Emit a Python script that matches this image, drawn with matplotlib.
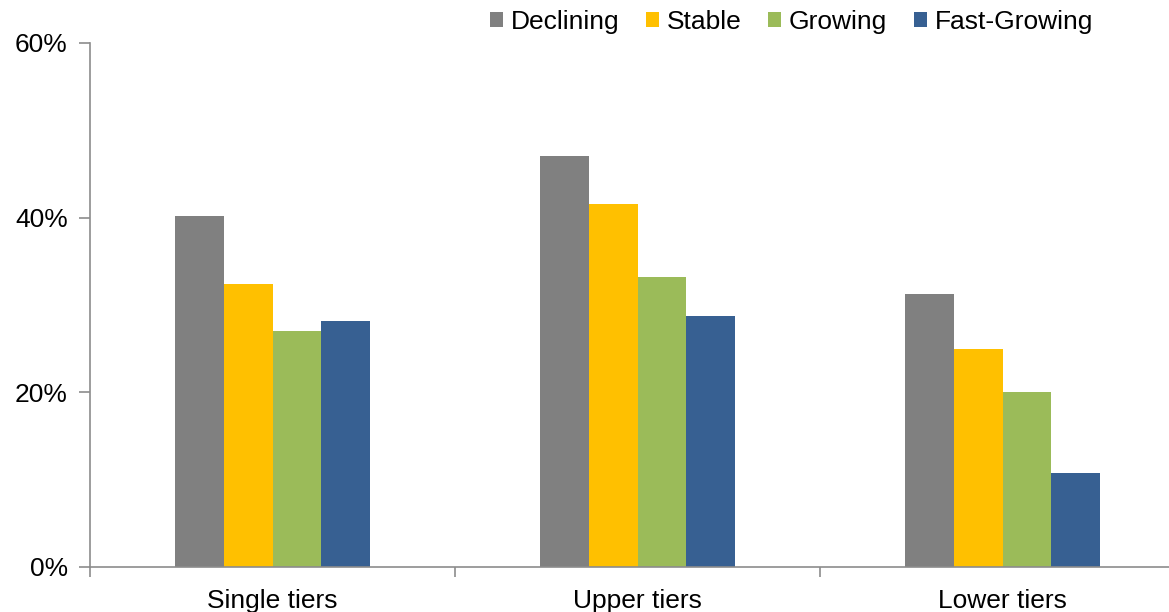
import matplotlib
matplotlib.use("Agg")
import matplotlib.pyplot as plt
from matplotlib.patches import Patch
import numpy as np

plt.rcParams['font.family'] = ['Liberation Sans', 'DejaVu Sans']

categories = ["Single tiers", "Upper tiers", "Lower tiers"]
series = ["Declining", "Stable", "Growing", "Fast-Growing"]
declining = [40.2, 47.1, 31.3]
stable = [32.4, 41.6, 25.0]
growing = [27.0, 33.2, 20.0]
fast_growing = [28.2, 28.7, 10.8]
colors = ["#808080", "#FFC000", "#9BBB59", "#376092"]
y_ticks = [0, 20, 40, 60]
y_tick_labels = ["0%", "20%", "40%", "60%"]

W, H = 1169, 612
fig = plt.figure(figsize=(W / 100, H / 100), dpi=100)
ax = fig.add_axes([90 / W, 45 / H, (W - 90) / W, 524 / H])

values = [declining, stable, growing, fast_growing]
x = np.arange(len(categories))
bw = 0.1336
for i, (vals, col) in enumerate(zip(values, colors)):
    ax.bar(x + (i - 1.5) * bw, vals, width=bw, color=col, label=series[i], zorder=2)

ax.set_yticks(y_ticks)
ax.set_yticklabels(y_tick_labels)
ax.set_xticks(x)
ax.set_xticklabels(categories)
ax.set_xticks([-0.5, 0.5, 1.5, 2.5], minor=True)
ax.set_xlim(-0.5, -0.5 + (W - 90) / 365)
ax.set_ylim(0, 60)

axis_col = "#8C8C8C"
for s in ["top", "right"]:
    ax.spines[s].set_visible(False)
for s in ["left", "bottom"]:
    ax.spines[s].set_color(axis_col)
    ax.spines[s].set_linewidth(1.2)

fs = 19
ax.tick_params(axis="y", length=8, width=1.2, color=axis_col, labelsize=fs, pad=8)
ax.tick_params(axis="x", which="major", length=0, labelsize=fs, pad=16)
ax.tick_params(axis="x", which="minor", length=7, width=1.2, color=axis_col)

handles = [Patch(facecolor=c, edgecolor="none") for c in colors]
fig.legend(handles, series, loc="upper left", bbox_to_anchor=(479 / W, 1 + 1 / H),
           ncol=4, frameon=False, fontsize=fs, handlelength=0.5, handleheight=0.5,
           handletextpad=0.3, columnspacing=1.0, borderaxespad=0)

fig.savefig("out.png", dpi=100)
